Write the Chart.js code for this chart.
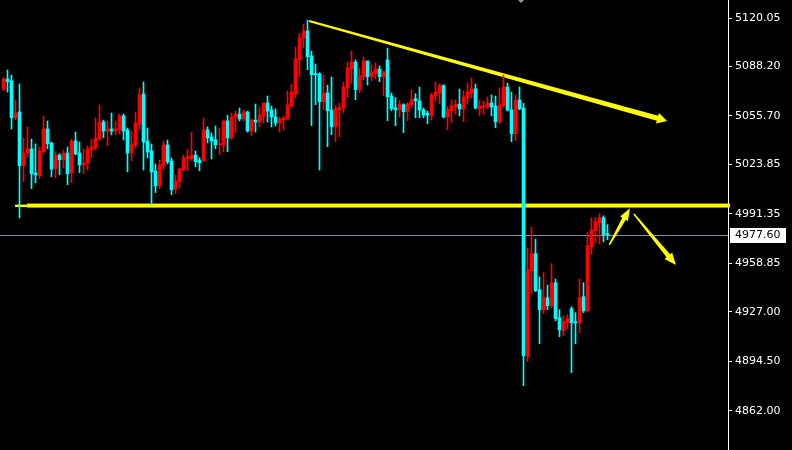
<!DOCTYPE html>
<html>
<head>
<meta charset="utf-8">
<title>Candles</title>
<script src="https://cdn.jsdelivr.net/npm/chart.js@4.4.1/dist/chart.umd.min.js"></script>
<style>
  html, body { margin: 0; padding: 0; background: #000; }
  #wrap { width: 792px; height: 450px; }
</style>
</head>
<body>
<div id="wrap"><canvas id="chart" width="792" height="450"></canvas></div>
<script>
'use strict';

/////// data (one candle per entry) ///////
let opens = [
  5073.4, 5080.0, 5078.7, 5054.5, 5058.3, 5023.0, 5031.3, 5034.0, 5018.2, 5016.4,
  5032.2, 5047.1, 5037.9, 5020.8, 5030.0, 5026.9, 5031.3, 5018.2, 5039.2, 5031.3,
  5023.5, 5024.6, 5033.5, 5034.8, 5040.5, 5051.7, 5045.8, 5047.1, 5045.8, 5046.5,
  5055.7, 5046.5, 5031.3, 5036.6, 5050.4, 5070.1, 5039.2, 5032.7, 5019.5, 5009.9,
  5023.0, 5036.6, 5026.1, 5007.7, 5012.5, 5020.4, 5028.0, 5027.6, 5030.0, 5026.7,
  5026.3, 5046.5, 5041.9, 5039.9, 5036.8, 5036.6, 5052.4, 5041.2, 5055.0, 5057.0,
  5053.7, 5058.3, 5045.8, 5053.0, 5051.7, 5055.7, 5064.2, 5059.6, 5055.0, 5051.1,
  5053.0, 5053.7, 5062.2, 5070.1, 5092.6, 5106.9, 5111.5, 5095.1, 5083.4, 5083.4,
  5065.1, 5070.8, 5059.6, 5048.6, 5059.8, 5061.1, 5074.2, 5086.7, 5091.1, 5072.9,
  5081.5, 5091.8, 5081.5, 5083.9, 5086.5, 5081.5, 5092.5, 5068.8, 5061.1, 5059.8,
  5063.1, 5058.5, 5063.1, 5067.0, 5065.5, 5059.6, 5057.4, 5055.9, 5068.8, 5070.8,
  5075.6, 5055.2, 5059.1, 5061.8, 5063.5, 5060.3, 5067.5, 5070.8, 5073.4, 5060.3,
  5061.6, 5061.6, 5064.2, 5062.2, 5051.9, 5062.2, 5074.7, 5059.6, 5044.0, 5066.2,
  5060.9, 4897.5, 4954.0, 4965.2, 4941.5, 4928.4, 4936.3, 4931.0, 4946.1, 4923.1,
  4914.6, 4919.8, 4929.0, 4920.5, 4919.8, 4936.9, 4927.7, 4969.8, 4980.3, 4985.5,
  4988.8, 4978.3
];
let highs = [
  5081.1, 5085.9, 5082.6, 5066.2, 5076.7, 5041.2, 5048.4, 5040.5, 5037.3, 5035.3,
  5055.7, 5052.4, 5038.5, 5032.0, 5030.9, 5033.3, 5035.3, 5040.5, 5045.1, 5038.6,
  5034.0, 5035.9, 5040.5, 5054.3, 5062.9, 5053.0, 5052.4, 5057.6, 5052.4, 5057.0,
  5057.0, 5047.8, 5045.8, 5058.3, 5074.1, 5078.0, 5047.8, 5037.3, 5024.1, 5026.7,
  5039.2, 5039.9, 5028.1, 5016.9, 5021.5, 5030.0, 5034.0, 5045.1, 5032.7, 5028.3,
  5054.3, 5048.6, 5044.5, 5049.1, 5047.8, 5052.4, 5056.3, 5057.6, 5058.9, 5060.9,
  5059.6, 5058.9, 5053.7, 5063.5, 5061.6, 5064.2, 5068.8, 5062.2, 5060.3, 5055.0,
  5055.7, 5072.1, 5076.7, 5101.0, 5110.2, 5116.1, 5118.7, 5098.4, 5089.8, 5084.1,
  5082.6, 5076.0, 5081.3, 5062.4, 5064.2, 5078.0, 5091.1, 5098.4, 5092.5, 5087.2,
  5094.4, 5091.8, 5089.2, 5090.5, 5088.5, 5085.2, 5100.3, 5070.8, 5067.7, 5065.7,
  5063.7, 5064.4, 5072.9, 5070.3, 5074.7, 5060.9, 5058.9, 5070.8, 5078.0, 5076.7,
  5076.2, 5061.8, 5066.2, 5066.2, 5073.4, 5072.1, 5077.3, 5080.6, 5076.7, 5066.2,
  5065.5, 5068.1, 5069.5, 5068.8, 5074.1, 5082.6, 5077.3, 5071.4, 5069.5, 5074.7,
  5064.0, 4969.1, 4982.7, 4974.8, 4949.9, 4952.7, 4944.6, 4958.6, 4948.5, 4928.4,
  4924.4, 4925.1, 4930.3, 4926.4, 4948.7, 4946.1, 4979.0, 4988.8, 4988.8, 4991.5,
  4990.1, 4984.2
];
let lows = [
  5072.3, 5071.4, 5047.1, 5053.0, 4988.6, 5012.5, 5028.7, 5007.9, 5011.8, 5014.5,
  5030.7, 5034.2, 5015.8, 5015.1, 5017.1, 5021.7, 5010.5, 5011.8, 5030.0, 5018.4,
  5017.7, 5020.2, 5028.3, 5033.3, 5039.9, 5041.4, 5036.1, 5043.2, 5043.2, 5043.8,
  5039.9, 5018.9, 5026.1, 5034.6, 5046.5, 5020.2, 5028.1, 4997.2, 5005.3, 5007.9,
  5020.2, 5024.3, 5003.9, 5004.6, 5008.5, 5019.7, 5019.7, 5026.3, 5022.3, 5019.7,
  5025.6, 5037.9, 5027.4, 5034.2, 5030.2, 5032.2, 5032.2, 5040.5, 5044.7, 5052.4,
  5052.4, 5045.1, 5042.5, 5045.1, 5048.4, 5051.1, 5051.7, 5048.4, 5049.1, 5045.1,
  5046.5, 5053.0, 5061.6, 5067.7, 5081.5, 5100.5, 5086.1, 5049.3, 5063.1, 5020.2,
  5059.6, 5035.5, 5043.4, 5038.8, 5042.0, 5057.8, 5067.7, 5077.1, 5066.4, 5071.0,
  5079.5, 5076.0, 5078.9, 5080.2, 5078.2, 5069.0, 5052.6, 5059.1, 5049.3, 5055.2,
  5044.7, 5052.6, 5061.1, 5054.5, 5054.5, 5054.5, 5050.6, 5053.0, 5065.5, 5063.7,
  5054.3, 5046.6, 5051.3, 5056.9, 5055.7, 5051.9, 5063.5, 5067.5, 5060.3, 5055.7,
  5056.9, 5060.3, 5055.7, 5048.0, 5050.6, 5061.6, 5058.9, 5038.8, 5039.4, 5059.6,
  4878.4, 4894.2, 4938.9, 4940.2, 4906.0, 4925.7, 4928.4, 4929.5, 4921.1, 4910.6,
  4911.3, 4915.9, 4887.0, 4906.0, 4913.3, 4926.4, 4927.0, 4964.8, 4972.4, 4971.7,
  4973.0, 4974.4
];
let closes = [
  5080.0, 5078.2, 5054.5, 5057.8, 5023.0, 5031.3, 5034.0, 5017.7, 5016.9, 5032.7,
  5047.1, 5037.5, 5020.8, 5030.0, 5026.9, 5031.3, 5017.7, 5039.2, 5030.7, 5023.6,
  5024.8, 5034.0, 5035.3, 5041.2, 5051.7, 5045.8, 5047.1, 5045.8, 5047.1, 5055.7,
  5045.8, 5031.3, 5037.3, 5051.1, 5069.5, 5038.6, 5032.0, 5018.9, 5009.7, 5023.5,
  5036.6, 5025.6, 5007.2, 5012.9, 5020.8, 5028.1, 5028.3, 5030.0, 5025.6, 5024.9,
  5046.5, 5041.2, 5039.2, 5036.6, 5037.3, 5052.4, 5041.2, 5055.0, 5057.0, 5053.7,
  5058.3, 5045.8, 5053.0, 5051.7, 5056.3, 5064.2, 5058.9, 5055.0, 5051.1, 5053.7,
  5054.3, 5062.9, 5071.4, 5093.1, 5106.9, 5111.5, 5094.6, 5082.8, 5082.8, 5065.1,
  5070.8, 5059.1, 5048.6, 5060.5, 5061.1, 5074.7, 5087.2, 5091.1, 5072.9, 5081.9,
  5091.8, 5081.5, 5084.6, 5086.5, 5081.5, 5084.6, 5068.3, 5060.5, 5059.8, 5063.1,
  5058.5, 5063.7, 5066.4, 5065.7, 5059.6, 5056.3, 5056.3, 5069.5, 5071.4, 5075.4,
  5055.0, 5059.6, 5062.2, 5063.5, 5060.3, 5068.1, 5071.4, 5073.4, 5060.9, 5062.2,
  5062.2, 5064.2, 5061.6, 5051.9, 5062.9, 5074.7, 5059.6, 5044.0, 5066.2, 5060.3,
  4898.1, 4954.7, 4965.2, 4940.9, 4928.4, 4936.3, 4931.0, 4946.1, 4922.5, 4915.2,
  4920.5, 4922.5, 4919.8, 4919.8, 4936.3, 4927.7, 4970.4, 4980.9, 4986.2, 4988.8,
  4977.7, 4977.6
];

// price scale labels on the right
let yTicks = [5120.05, 5088.20, 5055.70, 5023.85, 4991.35, 4958.85, 4927.00, 4894.50, 4862.00];
let lastPrice = 4977.60;

// drawn objects, as [candle index, price]
let trendLine = [[76.4, 5118.1], [165.9, 5052.4]];
let supportLevel = { from: 2.9, price: 4996.8 };
let arrowUp = [[151.45, 4970.9], [156.6, 4995.0]];
let arrowDown = [[157.6, 4991.3], [168.1, 4957.7]];

const BULL = '#ff0000';
const BEAR = '#00ffff';
const YELLOW = '#ffff00';

function candleColor(ctx) {
  let i = ctx.dataIndex;
  return closes[i] >= opens[i] ? BULL : BEAR;
}

let bodies = [];
let wicks = [];
for (let i = 0; i < opens.length; i++) {
  bodies.push({ x: i, y: [opens[i], closes[i]] });
  wicks.push({ x: i, y: [lows[i], highs[i]] });
}

///////// tapered arrow helper /////////
function taperArrow(ctx, x1, y1, x2, y2, w1, w2, headLen, headW) {
  let dx = x2 - x1, dy = y2 - y1;
  let len = Math.sqrt(dx * dx + dy * dy);
  let ux = dx / len, uy = dy / len;
  let nx = -uy, ny = ux;
  let bx = x2 - ux * headLen, by = y2 - uy * headLen;
  ctx.beginPath();
  ctx.moveTo(x1 + nx * w1 / 2, y1 + ny * w1 / 2);
  ctx.lineTo(bx + nx * w2 / 2, by + ny * w2 / 2);
  ctx.lineTo(bx + nx * headW / 2, by + ny * headW / 2);
  ctx.lineTo(x2, y2);
  ctx.lineTo(bx - nx * headW / 2, by - ny * headW / 2);
  ctx.lineTo(bx - nx * w2 / 2, by - ny * w2 / 2);
  ctx.lineTo(x1 - nx * w1 / 2, y1 - ny * w1 / 2);
  ctx.closePath();
  ctx.fill();
}

let objectsPlugin = {
  id: 'objects',
  beforeDatasetsDraw(chart) {
    let ctx = chart.ctx;
    let xs = chart.scales.x, ys = chart.scales.y;
    let area = chart.chartArea;
    ctx.save();

    // bid line
    let by = Math.round(ys.getPixelForValue(lastPrice)) + 0.5;
    ctx.strokeStyle = '#8595a6';
    ctx.lineWidth = 1;
    ctx.beginPath();
    ctx.moveTo(area.left, by);
    ctx.lineTo(area.right, by);
    ctx.stroke();

    // horizontal level
    let hy = ys.getPixelForValue(supportLevel.price);
    let hx = xs.getPixelForValue(supportLevel.from);
    ctx.fillStyle = YELLOW;
    ctx.fillRect(hx, hy - 1, 12, 2.5);
    ctx.fillRect(hx + 12, hy - 2, area.right - hx - 10, 4);

    // trend line + arrows
    let p = trendLine.map(function (d) { return [xs.getPixelForValue(d[0]), ys.getPixelForValue(d[1])]; });
    taperArrow(ctx, p[0][0], p[0][1], p[1][0], p[1][1], 2, 5, 10, 11);
    let a = arrowUp.map(function (d) { return [xs.getPixelForValue(d[0]), ys.getPixelForValue(d[1])]; });
    taperArrow(ctx, a[0][0], a[0][1], a[1][0], a[1][1], 1.5, 4, 12, 9);
    let b = arrowDown.map(function (d) { return [xs.getPixelForValue(d[0]), ys.getPixelForValue(d[1])]; });
    taperArrow(ctx, b[0][0], b[0][1], b[1][0], b[1][1], 1.5, 4.5, 12, 10);
    ctx.restore();
  },
  afterDraw(chart) {
    let ctx = chart.ctx;
    let xs = chart.scales.x, ys = chart.scales.y;
    ctx.save();
    // price label box
    let py = Math.round(ys.getPixelForValue(lastPrice));
    let left = chart.chartArea.right + 2;
    ctx.fillStyle = '#ffffff';
    ctx.fillRect(left, py - 7, 56, 15);
    ctx.fillStyle = '#000000';
    ctx.font = '11px "DejaVu Sans"';
    ctx.textBaseline = 'middle';
    ctx.textAlign = 'left';
    ctx.fillText(lastPrice.toFixed(2), left + 5, py + 0.5);
    // small shift marker at the top
    let mx = Math.round(xs.getPixelForValue(129.4));
    ctx.fillStyle = '#8c9cac';
    ctx.beginPath();
    ctx.moveTo(mx - 3, 0);
    ctx.lineTo(mx + 3, 0);
    ctx.lineTo(mx, 3);
    ctx.closePath();
    ctx.fill();
    ctx.restore();
  }
};

const ctx = document.getElementById('chart').getContext('2d');
const myChart = new Chart(ctx, {
  type: 'bar',
  data: {
    datasets: [{
      label: 'bodies',
      data: bodies,
      backgroundColor: candleColor,
      borderWidth: 0,
      grouped: false,
      barThickness: 3,
      maxBarThickness: 3,
      minBarLength: 1,
      order: 0
    },
    {
      label: 'wicks',
      data: wicks,
      backgroundColor: candleColor,
      borderWidth: 0,
      grouped: false,
      barThickness: 1,
      maxBarThickness: 1,
      order: 1
    }]
  },
  options: {
    responsive: false,
    animation: false,
    layout: { padding: 0 },
    plugins: {
      legend: { display: false },
      tooltip: { enabled: false }
    },
    scales: {
      x: {
        type: 'linear',
        display: false,
        offset: false,
        bounds: 'data',
        min: -0.875,
        max: 181.125
      },
      y: {
        type: 'linear',
        position: 'right',
        bounds: 'data',
        min: 4836.18,
        max: 5131.88,
        grid: {
          drawOnChartArea: false,
          drawTicks: true,
          tickLength: 4,
          color: '#ffffff'
        },
        border: { display: true, color: '#ffffff', width: 1 },
        ticks: {
          color: '#ffffff',
          padding: 3,
          autoSkip: false,
          font: { family: 'DejaVu Sans', size: 11 },
          callback: function (v) { return Number(v).toFixed(2); }
        },
        afterBuildTicks: function (scale) {
          scale.ticks = yTicks.map(function (v) { return { value: v }; });
        },
        afterFit: function (scale) {
          scale.width = 64;
          scale.paddingTop = 0;
          scale.paddingBottom = 0;
        }
      }
    }
  },
  plugins: [objectsPlugin]
});
</script>
</body>
</html>
